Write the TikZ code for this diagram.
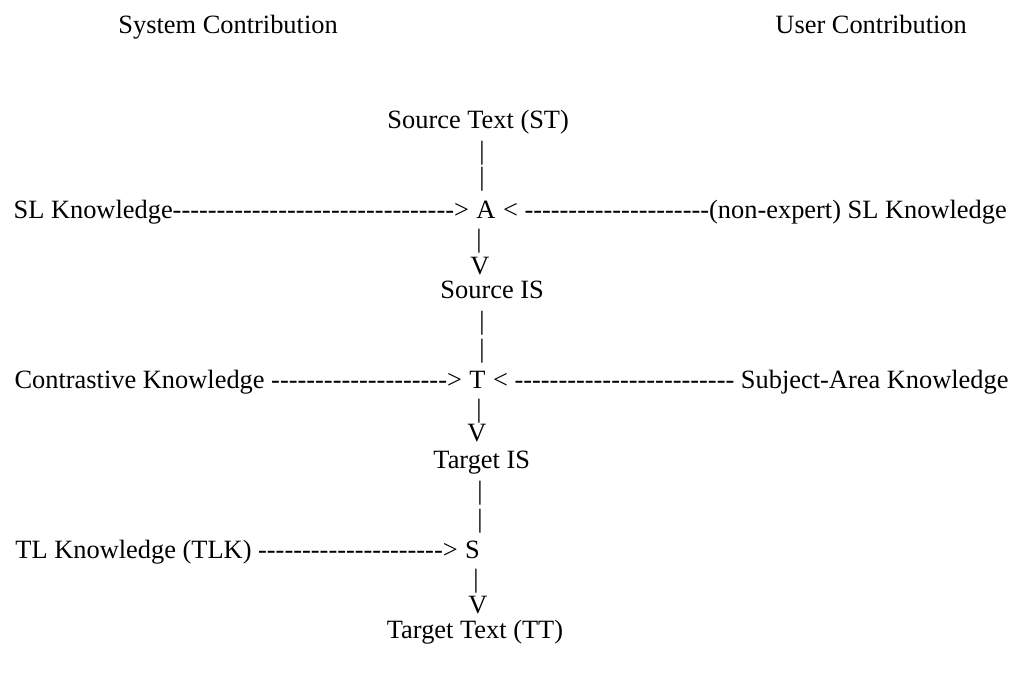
\documentclass[tikz,border=0pt]{standalone}
\usepackage{fontspec}
\setmainfont{Liberation Serif}[Ligatures=TeXOff]
\usetikzlibrary{positioning}

\begin{document}
\begin{tikzpicture}[x=0.4545pt,y=-0.4545pt]
	\tikzstyle{every node}=[font=\fontsize{12}{14}\selectfont, inner sep=0pt, anchor=base]
	\tikzstyle{bar}=[]
	\useasboundingbox (0,0) rectangle (1021,684);

	% headings
	\node[anchor=base west] (sys) at (118,33) {System Contribution};
	\node[anchor=base west] (usr) at (775,33) {User Contribution};

	% analysis
	\node[anchor=base west] (ST) at (387,128) {Source Text (ST)};
	\node[bar] (b1) at (482,159) {|};
	\node[bar] (b2) at (482,185) {|};
	\node (A) at (486,218) {A};
	\node[base left=3pt of A] (slSys) {SL Knowledge-------------------------------->};
	\node[base right=3pt of A] (slUser) {< ---------------------(non-expert) SL Knowledge};
	\node[bar] (b3) at (479,247) {|};
	\node (v1) at (480,274) {V};
	\node[anchor=base west] (SIS) at (440,298) {Source IS};

	% transfer
	\node[bar] (b4) at (482,329) {|};
	\node[bar] (b5) at (482,357) {|};
	\node (T) at (477.5,388) {T};
	\node[base left=3pt of T] (ckSys) {Contrastive Knowledge -------------------->};
	\node[base right=3pt of T] (saUser) {< ------------------------- Subject-Area Knowledge};
	\node[bar] (b6) at (479,417) {|};
	\node (v2) at (477,441) {V};
	\node[anchor=base west] (TIS) at (433,468) {Target IS};

	% synthesis
	\node[bar] (b7) at (480,499) {|};
	\node[bar] (b8) at (480,527) {|};
	\node (S) at (472.5,558) {S};
	\node[base left=3pt of S] (tlSys) {TL Knowledge (TLK) --------------------->};
	\node[bar] (b9) at (476,587) {|};
	\node (v3) at (478,613) {V};
	\node (TT) at (475,638) {Target Text (TT)};
\end{tikzpicture}
\end{document}
